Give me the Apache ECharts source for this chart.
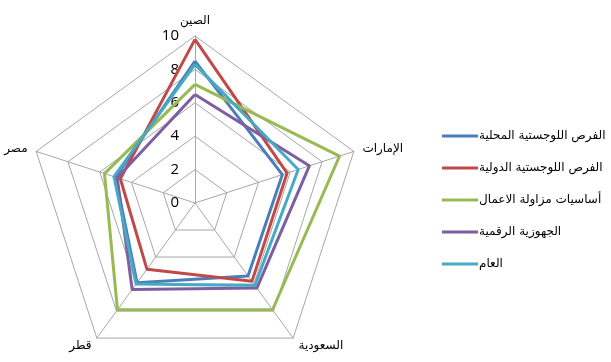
<!DOCTYPE html>
<html>
<head>
<meta charset="utf-8">
<script src="https://cdn.jsdelivr.net/npm/echarts@6/dist/echarts.min.js"></script>
<style>
  html, body { margin: 0; padding: 0; background: #fff; }
  #container { width: 611px; height: 362px; }
</style>
</head>
<body>
<div id="container"></div>
<script type="text/javascript">
    // indicators, counterclockwise from the top (echarts order)
    var countries = ['الصين', 'مصر', 'قطر', 'السعودية', 'الإمارات'];
    var seriesNames = [
        'الفرص اللوجستية المحلية',
        'الفرص اللوجستية الدولية',
        'أساسيات مزاولة الاعمال',
        'الجهوزية الرقمية',
        'العام'
    ];
    // values in the same order as countries
    var localLogistics  = [8.5, 5.0, 5.9, 5.4, 5.5];
    var intlLogistics   = [9.8, 4.7, 4.9, 5.8, 5.8];
    var businessBasics  = [7.1, 5.7, 7.9, 7.9, 9.1];
    var digitalReady    = [6.5, 4.9, 6.4, 6.3, 7.2];
    var overall         = [8.3, 5.1, 6.0, 6.1, 6.5];
    var maxValue = 10;
    var colors = ['#4A7EBB', '#BE4B48', '#98B954', '#7D5FA0', '#46AAC5'];

    var myChart = echarts.init(document.getElementById('container'));

    var values = [localLogistics, intlLogistics, businessBasics, digitalReady, overall];
    var indicator = [];
    for (var i = 0; i < countries.length; i++) {
        var ind = { name: countries[i], max: maxValue, min: 0 };
        if (i == 0) {
            ind.axisLabel = { show: true };   // tick numbers only on the top axis
        }
        indicator.push(ind);
    }

    var series = [];
    for (var s = 0; s < seriesNames.length; s++) {
        series.push({
            name: seriesNames[s],
            type: 'radar',
            symbol: 'none',
            lineStyle: { width: 3, color: colors[s] },
            itemStyle: { color: colors[s] },
            data: [{ value: values[s], name: seriesNames[s] }]
        });
    }

    var option = {
        animation: false,
        color: colors,
        legend: {
            orient: 'vertical',
            left: 437,
            top: 123,
            icon: 'rect',
            itemWidth: 36,
            itemHeight: 3,
            itemGap: 16,
            textStyle: { color: '#000', fontSize: 12, lineHeight: 16, fontFamily: 'DejaVu Sans', padding: [0, 0, 0, -4] },
            data: seriesNames
        },
        radar: {
            center: [195, 203],
            radius: 167,
            shape: 'polygon',
            splitNumber: 5,
            startAngle: 90,
            nameGap: 9,
            axisName: { color: '#000', fontSize: 12, fontFamily: 'DejaVu Sans' },
            splitArea: { show: false },
            splitLine: { lineStyle: { color: '#A6A6A6', width: 1 } },
            axisLine: { lineStyle: { color: '#A6A6A6', width: 1 } },
            axisTick: { show: false },
            axisLabel: {
                show: false,
                color: '#000',
                fontSize: 15,
                fontFamily: 'Open Sans',
                margin: 16
            },
            indicator: indicator
        },
        series: series
    };

    myChart.setOption(option);
</script>
</body>
</html>
